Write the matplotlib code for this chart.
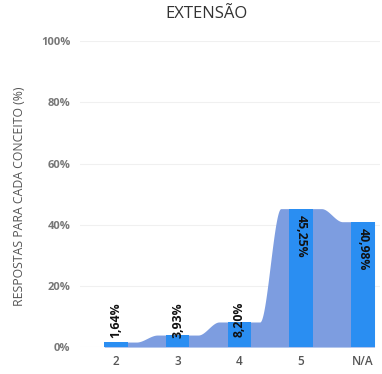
import numpy as np
import matplotlib.pyplot as plt

categories = ["2", "3", "4", "5", "N/A"]
values = [1.64, 3.93, 8.20, 45.25, 40.98]
labels = ["1,64%", "3,93%", "8,20%", "45,25%", "40,98%"]
yticks = [0, 20, 40, 60, 80, 100]

plt.rcParams['font.family'] = ['Open Sans', 'DejaVu Sans']

fig = plt.figure(figsize=(3.82, 3.74), dpi=100)
ax = fig.add_axes([0.21, 0.072, 0.785, 0.818])

x = np.arange(len(categories))
bw = 0.38

# smoothed step area behind the bars
xs, ys = [], []
for i, v in enumerate(values):
    left = i - bw / 2 if i == 0 else i - 0.33
    right = i + bw / 2 if i == len(values) - 1 else i + 0.33
    xs += [left, right]
    ys += [v, v]
xx = np.linspace(xs[0], xs[-1], 800)
yy = np.empty_like(xx)
for k, xv in enumerate(xx):
    j = np.searchsorted(xs, xv)
    j = min(max(j, 1), len(xs) - 1)
    x0, x1 = xs[j - 1], xs[j]
    y0, y1 = ys[j - 1], ys[j]
    t = 0 if x1 == x0 else (xv - x0) / (x1 - x0)
    t = t * t * (3 - 2 * t)
    yy[k] = y0 + (y1 - y0) * t
ax.fill_between(xx, 0, yy, color='#7d9de0', lw=0, zorder=1)

ax.bar(x, values, width=bw, color='#2a8ef2', zorder=2)

for i, v in enumerate(values):
    if v > 20:
        ax.text(i, v - 2, labels[i], rotation=-90, ha='center', va='top',
                fontsize=8.8, fontweight='bold', color='#111111', zorder=3)
    else:
        ax.text(i, 14.7, labels[i], rotation=90, ha='center', va='top',
                fontsize=8.8, fontweight='bold', color='#111111', zorder=3)

ax.set_xlim(-0.58, 4.28)
ax.set_ylim(0, 100)
ax.set_xticks(x)
ax.set_xticklabels(categories, fontsize=8.5, color='#555555',
                   fontweight='semibold')
ax.set_yticks(yticks)
ax.set_yticklabels([f"{t}%" for t in yticks], fontsize=8, color='#777777',
                   fontweight='bold')
ax.tick_params(length=0, pad=7)
ax.tick_params(axis='x', pad=6)
ax.grid(axis='y', color='#f0f0f0', lw=0.8)
ax.set_axisbelow(True)
for s in ax.spines.values():
    s.set_visible(False)

fig.text(0.052, 0.475, "RESPOSTAS PARA CADA CONCEITO (%)", rotation=90,
         ha='center', va='center', fontsize=8.8, color='#555555')
fig.text(0.54, 0.963, "EXTENSÃO", ha='center', va='center', fontsize=12,
         color='#333333')

fig.savefig("out.png", dpi=100)
